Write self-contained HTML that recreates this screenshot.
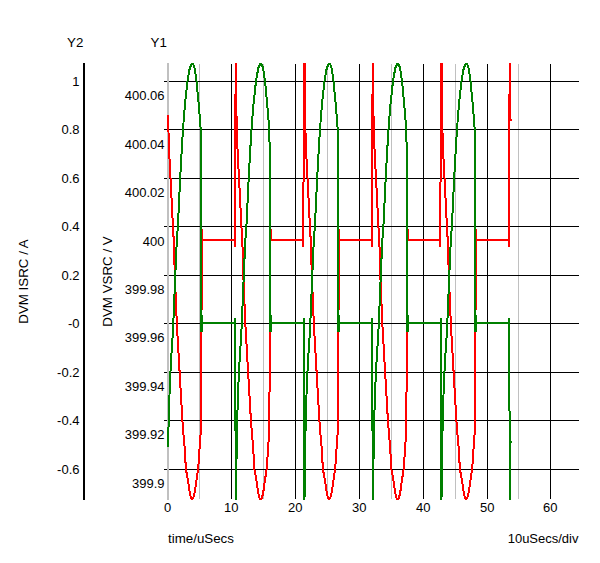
<!DOCTYPE html>
<html><head><meta charset="utf-8"><title>Chart</title>
<style>html,body{margin:0;padding:0;background:#fff;width:600px;height:563px;overflow:hidden}svg{display:block}</style></head>
<body>
<svg width="600" height="563" viewBox="0 0 600 563">
<rect width="600" height="563" fill="#fff"/>
<defs><clipPath id="c"><rect x="160" y="63" width="430" height="437"/></clipPath></defs>
<g shape-rendering="crispEdges">
<rect x="199" y="64" width="1" height="435" fill="#c0c0c0"/>
<rect x="263" y="64" width="1" height="435" fill="#c0c0c0"/>
<rect x="327" y="64" width="1" height="435" fill="#c0c0c0"/>
<rect x="391" y="64" width="1" height="435" fill="#c0c0c0"/>
<rect x="455" y="64" width="1" height="435" fill="#c0c0c0"/>
<rect x="518" y="64" width="1" height="435" fill="#c0c0c0"/>
<rect x="231" y="64" width="1" height="435" fill="#000"/>
<rect x="295" y="64" width="1" height="435" fill="#000"/>
<rect x="359" y="64" width="1" height="435" fill="#000"/>
<rect x="423" y="64" width="1" height="435" fill="#000"/>
<rect x="487" y="64" width="1" height="435" fill="#000"/>
<rect x="550" y="64" width="1" height="435" fill="#000"/>
<rect x="164" y="81" width="415" height="1" fill="#000"/>
<rect x="164" y="129" width="415" height="1" fill="#000"/>
<rect x="164" y="178" width="415" height="1" fill="#000"/>
<rect x="164" y="226" width="415" height="1" fill="#000"/>
<rect x="164" y="275" width="415" height="1" fill="#000"/>
<rect x="164" y="323" width="415" height="1" fill="#000"/>
<rect x="164" y="372" width="415" height="1" fill="#000"/>
<rect x="164" y="420" width="415" height="1" fill="#000"/>
<rect x="164" y="469" width="415" height="1" fill="#000"/>
<rect x="167" y="63" width="2" height="437" fill="#c0c0c0"/>
<rect x="83" y="63" width="2" height="437" fill="#000"/>
</g>
<g clip-path="url(#c)" fill="none" stroke-width="2" stroke-linejoin="miter" shape-rendering="crispEdges">
<polyline stroke="#ff0000" points="168.0,115.0 168.5,132.0 169.0,149.0 170.5,178.0 172.9,226.0 173.9,243.0 174.8,275.0 176.8,323.0 177.6,337.0 179.6,372.0 182.4,420.0 183.2,431.0 184.6,447.0 185.9,469.0 188.4,483.0 189.2,489.5 190.2,495.0 191.2,498.3 192.2,499.4 193.2,498.3 194.2,495.0 195.2,489.5 196.0,483.0 198.2,469.0 200.0,442.0 200.8,431.0 201.3,340.0 202.1,229.0 202.1,240.0 234.6,240.0 234.6,247.0 234.6,240.0 234.7,183.0 235.2,181.0 235.5,100.0 235.9,-50.0 236.1,63.0 236.5,115.0 237.0,132.0 237.5,149.0 239.0,178.0 241.4,226.0 242.4,243.0 243.3,275.0 245.3,323.0 246.1,337.0 248.1,372.0 250.9,420.0 251.7,431.0 253.1,447.0 254.4,469.0 256.9,483.0 257.7,489.5 258.7,495.0 259.7,498.3 260.7,499.4 261.7,498.3 262.7,495.0 263.7,489.5 264.5,483.0 266.7,469.0 268.5,442.0 269.3,431.0 269.8,340.0 270.6,229.0 270.6,240.0 303.1,240.0 303.1,247.0 303.1,240.0 303.2,183.0 303.7,181.0 304.0,100.0 304.4,-50.0 304.6,63.0 305.0,115.0 305.5,132.0 306.0,149.0 307.5,178.0 309.9,226.0 310.9,243.0 311.8,275.0 313.8,323.0 314.6,337.0 316.6,372.0 319.4,420.0 320.2,431.0 321.6,447.0 322.9,469.0 325.4,483.0 326.2,489.5 327.2,495.0 328.2,498.3 329.2,499.4 330.2,498.3 331.2,495.0 332.2,489.5 333.0,483.0 335.2,469.0 337.0,442.0 337.8,431.0 338.3,340.0 339.1,229.0 339.1,240.0 371.6,240.0 371.6,247.0 371.6,240.0 371.7,183.0 372.2,181.0 372.5,100.0 372.9,-50.0 373.1,63.0 373.5,115.0 374.0,132.0 374.5,149.0 376.0,178.0 378.4,226.0 379.4,243.0 380.3,275.0 382.3,323.0 383.1,337.0 385.1,372.0 387.9,420.0 388.7,431.0 390.1,447.0 391.4,469.0 393.9,483.0 394.7,489.5 395.7,495.0 396.7,498.3 397.7,499.4 398.7,498.3 399.7,495.0 400.7,489.5 401.5,483.0 403.7,469.0 405.5,442.0 406.3,431.0 406.8,340.0 407.6,229.0 407.6,240.0 440.1,240.0 440.1,247.0 440.1,240.0 440.2,183.0 440.7,181.0 441.0,100.0 441.4,-50.0 441.6,63.0 442.0,115.0 442.5,132.0 443.0,149.0 444.5,178.0 446.9,226.0 447.9,243.0 448.8,275.0 450.8,323.0 451.6,337.0 453.6,372.0 456.4,420.0 457.2,431.0 458.6,447.0 459.9,469.0 462.4,483.0 463.2,489.5 464.2,495.0 465.2,498.3 466.2,499.4 467.2,498.3 468.2,495.0 469.2,489.5 470.0,483.0 472.2,469.0 474.0,442.0 474.8,431.0 475.3,340.0 476.1,229.0 476.1,240.0 508.6,240.0 508.6,247.0 508.6,240.0 508.7,183.0 509.2,181.0 509.5,100.0 509.9,-50.0 510.1,63.0 510.5,120.0 511.8,120.0"/>
<polyline stroke="#008000" points="168.0,447.0 168.7,420.0 169.5,395.0 170.3,375.0 171.5,353.0 172.6,337.0 173.3,323.0 175.3,275.0 176.7,243.0 177.9,226.0 180.2,178.0 181.8,149.0 183.0,129.0 184.9,105.0 187.5,81.0 189.8,68.0 192.4,62.5 194.6,68.0 196.5,81.0 198.8,105.0 200.7,129.0 201.2,149.0 201.2,331.0 202.0,331.0 202.0,315.0 202.0,323.0 235.0,323.0 235.0,318.0 235.0,323.0 235.3,377.0 235.7,480.0 235.9,520.0 236.1,480.0 236.7,450.0 237.2,420.0 238.0,395.0 238.8,375.0 240.0,353.0 241.1,337.0 241.8,323.0 243.8,275.0 245.2,243.0 246.4,226.0 248.7,178.0 250.3,149.0 251.5,129.0 253.4,105.0 256.0,81.0 258.3,68.0 260.9,62.5 263.1,68.0 265.0,81.0 267.3,105.0 269.2,129.0 269.7,149.0 269.7,331.0 270.5,331.0 270.5,315.0 270.5,323.0 303.5,323.0 303.5,318.0 303.5,323.0 303.8,377.0 304.2,480.0 304.4,520.0 304.6,480.0 305.2,450.0 305.7,420.0 306.5,395.0 307.3,375.0 308.5,353.0 309.6,337.0 310.3,323.0 312.3,275.0 313.7,243.0 314.9,226.0 317.2,178.0 318.8,149.0 320.0,129.0 321.9,105.0 324.5,81.0 326.8,68.0 329.4,62.5 331.6,68.0 333.5,81.0 335.8,105.0 337.7,129.0 338.2,149.0 338.2,331.0 339.0,331.0 339.0,315.0 339.0,323.0 372.0,323.0 372.0,318.0 372.0,323.0 372.3,377.0 372.7,480.0 372.9,520.0 373.1,480.0 373.7,450.0 374.2,420.0 375.0,395.0 375.8,375.0 377.0,353.0 378.1,337.0 378.8,323.0 380.8,275.0 382.2,243.0 383.4,226.0 385.7,178.0 387.3,149.0 388.5,129.0 390.4,105.0 393.0,81.0 395.3,68.0 397.9,62.5 400.1,68.0 402.0,81.0 404.3,105.0 406.2,129.0 406.7,149.0 406.7,331.0 407.5,331.0 407.5,315.0 407.5,323.0 440.5,323.0 440.5,318.0 440.5,323.0 440.8,377.0 441.2,480.0 441.4,520.0 441.6,480.0 442.2,450.0 442.7,420.0 443.5,395.0 444.3,375.0 445.5,353.0 446.6,337.0 447.3,323.0 449.3,275.0 450.7,243.0 451.9,226.0 454.2,178.0 455.8,149.0 457.0,129.0 458.9,105.0 461.5,81.0 463.8,68.0 466.4,62.5 468.6,68.0 470.5,81.0 472.8,105.0 474.7,129.0 475.2,149.0 475.2,331.0 476.0,331.0 476.0,315.0 476.0,323.0 509.0,323.0 509.0,318.0 509.0,323.0 509.3,377.0 509.7,442.0 510.0,520.0 510.3,442.0 511.8,442.0"/>
</g>
<g font-family="'Liberation Sans', sans-serif" font-size="13.33px" fill="#000">
<text x="67" y="47">Y2</text>
<text x="150.5" y="47">Y1</text>
<text x="79.5" y="85.8" text-anchor="end" font-size="13px">1</text>
<text x="79.5" y="134.3" text-anchor="end" font-size="13px">0.8</text>
<text x="79.5" y="182.8" text-anchor="end" font-size="13px">0.6</text>
<text x="79.5" y="231.3" text-anchor="end" font-size="13px">0.4</text>
<text x="79.5" y="279.8" text-anchor="end" font-size="13px">0.2</text>
<text x="79.5" y="328.3" text-anchor="end" font-size="13px">-0</text>
<text x="79.5" y="376.8" text-anchor="end" font-size="13px">-0.2</text>
<text x="79.5" y="425.3" text-anchor="end" font-size="13px">-0.4</text>
<text x="79.5" y="473.8" text-anchor="end" font-size="13px">-0.6</text>
<text x="164.5" y="100.1" text-anchor="end" font-size="13px">400.06</text>
<text x="164.5" y="148.6" text-anchor="end" font-size="13px">400.04</text>
<text x="164.5" y="197.0" text-anchor="end" font-size="13px">400.02</text>
<text x="164.5" y="245.5" text-anchor="end" font-size="13px">400</text>
<text x="164.5" y="293.9" text-anchor="end" font-size="13px">399.98</text>
<text x="164.5" y="342.4" text-anchor="end" font-size="13px">399.96</text>
<text x="164.5" y="390.8" text-anchor="end" font-size="13px">399.94</text>
<text x="164.5" y="439.3" text-anchor="end" font-size="13px">399.92</text>
<text x="164.5" y="487.7" text-anchor="end" font-size="13px">399.9</text>
<text x="167.6" y="512" text-anchor="middle" font-size="13px">0</text>
<text x="231.3" y="512" text-anchor="middle" font-size="13px">10</text>
<text x="295.3" y="512" text-anchor="middle" font-size="13px">20</text>
<text x="359.3" y="512" text-anchor="middle" font-size="13px">30</text>
<text x="423.3" y="512" text-anchor="middle" font-size="13px">40</text>
<text x="487.2" y="512" text-anchor="middle" font-size="13px">50</text>
<text x="550.2" y="512" text-anchor="middle" font-size="13px">60</text>
<text x="168" y="543">time/uSecs</text>
<text x="578.5" y="543" text-anchor="end" font-size="13px">10uSecs/div</text>
<text transform="translate(28.4,281.5) rotate(-90)" text-anchor="middle">DVM ISRC / A</text>
<text transform="translate(111.8,281.5) rotate(-90)" text-anchor="middle">DVM VSRC / V</text>
</g>
</svg>
</body></html>
